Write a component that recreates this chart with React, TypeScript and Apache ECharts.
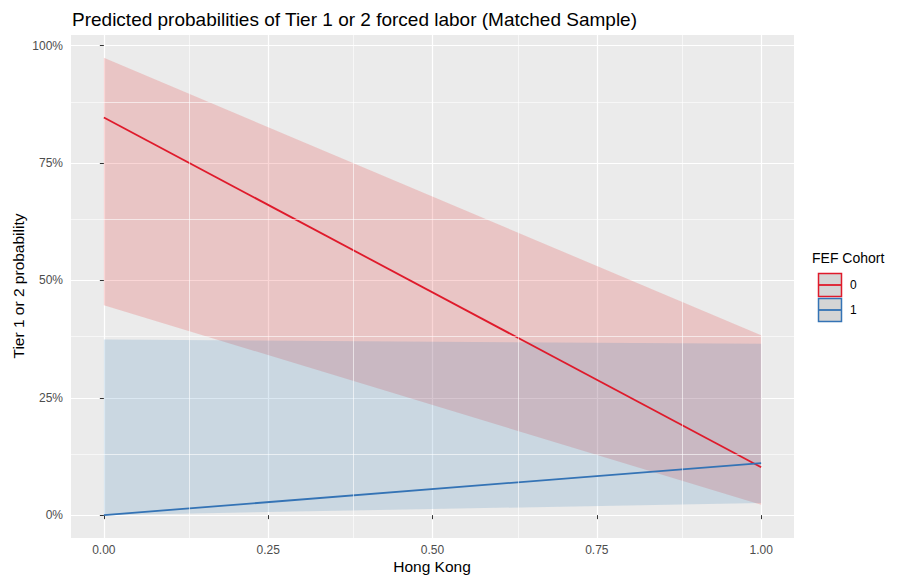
import React, { useEffect, useRef } from "react";
import * as echarts from "echarts";

const xValues = [0, 1];
const redFit = [0.847, 0.102];
const redLower = [0.447, 0.022];
const redUpper = [0.974, 0.383];
const blueFit = [0.0, 0.111];
const blueLower = [0.0, 0.026];
const blueUpper = [0.374, 0.365];
const xTicks = [0, 0.25, 0.5, 0.75, 1];
const yTicks = [0, 0.25, 0.5, 0.75, 1];
const xMinor = [0.125, 0.375, 0.625, 0.875];
const yMinor = [0.125, 0.375, 0.625, 0.875];
const legendLabels = ["0", "1"];
const xTitle = "Hong Kong";
const yTitle = "Tier 1 or 2 probability";

const RED = "#DF1A2B";
const BLUE = "#3473B5";
const RED_FILL = "rgba(228,26,28,0.18)";
const BLUE_FILL = "rgba(55,126,184,0.18)";
const FONT = "Liberation Sans, Arial, sans-serif";

export default function App() {
  const ref = useRef<HTMLDivElement>(null);
  useEffect(() => {
    if (!ref.current) return;
    const chart = echarts.init(ref.current, undefined, { renderer: "svg" });
    const pairs = (ys: number[]) => xValues.map((x, i) => [x, ys[i]]);
    const ribbon = (name: string, lo: number[], hi: number[], fill: string) => ({
      type: "custom",
      name,
      silent: true,
      z: 2,
      data: pairs(lo),
      renderItem: (params: any, api: any) => {
        if (params.dataIndex !== 0) return null;
        const upper = xValues.map((x, i) => api.coord([x, hi[i]]));
        const lower = xValues.map((x, i) => api.coord([x, lo[i]])).reverse();
        return {
          type: "polygon",
          shape: { points: [...upper, ...lower] },
          style: { fill, stroke: "none" },
        };
      },
    });
    const keyY = [273, 298];
    const keyColors = [RED, BLUE];
    const graphics: any[] = [
      {
        type: "text",
        x: 432,
        y: 566,
        style: { text: xTitle, font: `15.5px ${FONT}`, fill: "#000", textAlign: "center", textVerticalAlign: "middle" },
      },
      {
        type: "text",
        x: 18,
        y: 286,
        rotation: Math.PI / 2,
        style: { text: yTitle, font: `15.5px ${FONT}`, fill: "#000", textAlign: "center", textVerticalAlign: "middle" },
      },
      {
        type: "text",
        x: 812,
        y: 258,
        style: { text: "FEF Cohort", font: `14px ${FONT}`, fill: "#000", textVerticalAlign: "middle" },
      },
    ];
    legendLabels.forEach((lab, i) => {
      graphics.push({
        type: "rect",
        shape: { x: 818.5, y: keyY[i] + 0.5, width: 23, height: 23 },
        style: { fill: "#D5D5D5", stroke: keyColors[i], lineWidth: 1.5 },
      });
      graphics.push({
        type: "line",
        shape: { x1: 819, y1: keyY[i] + 12, x2: 841, y2: keyY[i] + 12 },
        style: { stroke: keyColors[i], lineWidth: 1.8 },
      });
      graphics.push({
        type: "text",
        x: 850,
        y: keyY[i] + 12,
        style: { text: lab, font: `12px ${FONT}`, fill: "#000", textVerticalAlign: "middle" },
      });
    });

    chart.setOption({
      animation: false,
      textStyle: { fontFamily: FONT },
      title: {
        text: "Predicted probabilities of Tier 1 or 2 forced labor (Matched Sample)",
        left: 67,
        top: 5,
        textStyle: { fontSize: 19, fontWeight: "normal", color: "#000", fontFamily: FONT },
      },
      grid: {
        left: 71,
        right: 107,
        top: 35,
        bottom: 37,
        show: true,
        backgroundColor: "#EBEBEB",
        borderWidth: 0,
        containLabel: false,
        outerBoundsMode: "none",
      },
      xAxis: {
        type: "value",
        min: -0.05,
        max: 1.05,
        axisLine: { show: false },
        axisTick: { show: true, length: 4, customValues: xTicks, lineStyle: { color: "#333", width: 1 } },
        axisLabel: {
          customValues: xTicks,
          margin: 6,
          fontSize: 12,
          color: "#4D4D4D",
          fontFamily: FONT,
          formatter: (v: number) => v.toFixed(2),
        },
        splitLine: { show: true, lineStyle: { color: "#FFFFFF", width: 1.2 } },
      },
      yAxis: {
        type: "value",
        min: -0.0487,
        max: 1.0227,
        axisLine: { show: false },
        axisTick: { show: true, length: 4, customValues: yTicks, lineStyle: { color: "#333", width: 1 } },
        axisLabel: {
          customValues: yTicks,
          margin: 8,
          fontSize: 12,
          color: "#4D4D4D",
          fontFamily: FONT,
          formatter: (v: number) => Math.round(v * 100) + "%",
        },
        splitLine: { show: true, lineStyle: { color: "#FFFFFF", width: 1.2 } },
      },
      graphic: graphics,
      series: [
        {
          type: "line",
          name: "minor",
          data: [],
          z: 1,
          silent: true,
          markLine: {
            silent: true,
            symbol: ["none", "none"],
            label: { show: false },
            lineStyle: { color: "#FFFFFF", width: 0.6, type: "solid" },
            data: [
              ...xMinor.map((v) => ({ xAxis: v })),
              ...yMinor.map((v) => ({ yAxis: v })),
            ],
          },
        },
        ribbon("red_ci", redLower, redUpper, RED_FILL),
        ribbon("blue_ci", blueLower, blueUpper, BLUE_FILL),
        {
          type: "line",
          name: "0",
          data: pairs(redFit),
          symbol: "none",
          lineStyle: { color: RED, width: 1.8 },
          z: 3,
        },
        {
          type: "line",
          name: "1",
          data: pairs(blueFit),
          symbol: "none",
          lineStyle: { color: BLUE, width: 1.8 },
          z: 3,
        },
      ],
    });
    return () => chart.dispose();
  }, []);
  return <div ref={ref} style={{ width: 901, height: 575, position: "absolute", left: 0, top: 0 }} />;
}
